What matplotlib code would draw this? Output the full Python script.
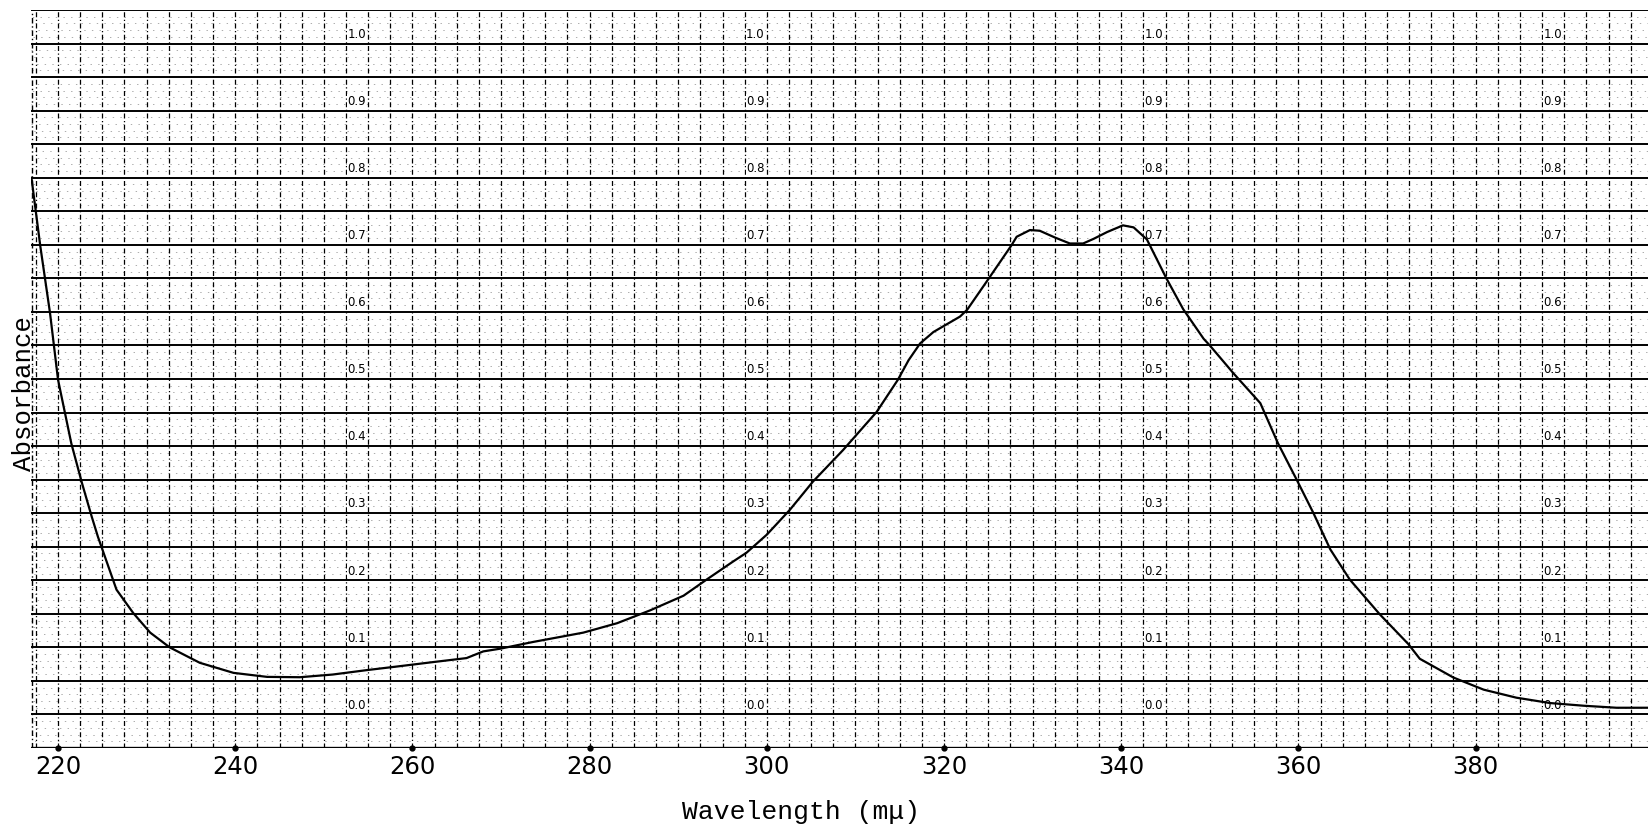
import numpy as np
import matplotlib
matplotlib.use("Agg")
import matplotlib.pyplot as plt

# ---- data ----
wavelength = [217.0, 218.0, 219.1, 220.0, 221.5, 222.7, 223.8, 224.5, 226.6, 228.5,
              230.4, 232.6, 236.0, 239.8, 243.6, 247.3, 251.0, 254.8, 258.6, 262.3,
              266.1, 268.0, 269.9, 273.6, 279.3, 283.1, 286.8, 290.6, 293.2, 296.2,
              297.7, 300.0, 302.6, 305.2, 308.6, 312.4, 314.8, 316.0, 317.3, 318.8,
              321.8, 322.6, 324.8, 327.6, 328.2, 329.7, 330.8, 332.5, 334.2, 335.7,
              336.9, 338.4, 340.2, 341.4, 342.9, 345.1, 347.0, 349.3, 350.0, 352.7,
              355.7, 357.7, 359.8, 361.7, 363.6, 365.8, 369.2, 372.4, 373.7, 377.5,
              380.9, 384.6, 388.4, 392.2, 395.9, 399.5]
absorbance = [0.800, 0.698, 0.598, 0.499, 0.404, 0.345, 0.295, 0.265, 0.186, 0.151,
              0.122, 0.100, 0.077, 0.062, 0.056, 0.0555, 0.0595, 0.066, 0.072, 0.078,
              0.084, 0.094, 0.098, 0.108, 0.122, 0.136, 0.155, 0.177, 0.201, 0.228,
              0.241, 0.268, 0.305, 0.347, 0.394, 0.451, 0.499, 0.528, 0.553, 0.570,
              0.593, 0.603, 0.645, 0.699, 0.712, 0.722, 0.721, 0.711, 0.702, 0.702,
              0.709, 0.719, 0.729, 0.726, 0.708, 0.650, 0.604, 0.560, 0.550, 0.508,
              0.464, 0.404, 0.350, 0.300, 0.246, 0.201, 0.149, 0.105, 0.083, 0.055,
              0.037, 0.025, 0.017, 0.013, 0.010, 0.010]
x_ticks = [220, 240, 260, 280, 300, 320, 340, 360, 380]
paper_labels = ["0.0", "0.1", "0.2", "0.3", "0.4", "0.5", "0.6", "0.7", "0.8", "0.9", "1.0"]
paper_label_cols = [252.5, 297.5, 342.5, 387.5]

W, H = 1649, 831
fig = plt.figure(figsize=(W / 100, H / 100), dpi=100)
fig.patch.set_facecolor("white")
ax = fig.add_axes([31 / W, (H - 748) / H, (W - 31) / W, (748 - 10) / H])

x0, x1 = 216.95, 399.57
y0, y1 = -0.05, 1.05
ax.set_xlim(x0, x1)
ax.set_ylim(y0, y1)

# chart-paper texture: faint minor horizontal dashes at 0.01
for k in range(-5, 106):
    if k % 5 == 0:
        continue
    y = k / 100
    ax.axhline(y, color="0.55", lw=0.5, ls=((k * 4) % 11, (2, 9)), zorder=1)

# vertical dashed grid every 2.5 nm
for v in np.arange(217.5, 400, 2.5):
    ax.axvline(v, color="black", lw=0.9, ls=(0, (4, 2, 1, 2)), zorder=2)
ax.axvline(x0 + 0.15, color="black", lw=1.0, ls=(0, (4, 2, 1, 2)), zorder=2)

# major horizontal lines every 0.05
for k in range(-1, 22):
    y = k * 0.05
    ax.axhline(y, color="black", lw=1.4 if k > -1 else 2.4, zorder=3)

# labels printed on the paper
for cx in paper_label_cols:
    for i, lab in enumerate(paper_labels):
        ax.text(cx + 0.15, i * 0.1 + 0.004, lab, fontsize=8.5, family="DejaVu Sans",
                ha="left", va="bottom", zorder=4,
                bbox=dict(facecolor="white", edgecolor="none", pad=0.3))

# spectrum
ax.plot(wavelength, absorbance, color="black", lw=1.6, zorder=5)

# tick dots on bottom axis
ax.plot(x_ticks, [y0] * len(x_ticks), "o", color="black", ms=3.5, clip_on=False, zorder=6)

for s in ax.spines.values():
    s.set_visible(False)
ax.set_xticks(x_ticks)
ax.set_xticklabels([str(t) for t in x_ticks], fontsize=17.5, family="DejaVu Sans")
ax.tick_params(axis="x", length=0, pad=5)
ax.set_yticks([])

fig.text(801 / W, 1 - 812 / H, "Wavelength (mμ)", fontsize=19, family="Liberation Mono",
         ha="center", va="center")
fig.text(24 / W, 1 - 394 / H, "Absorbance", fontsize=18.5, family="Liberation Mono",
         ha="center", va="center", rotation=90)

fig.savefig("out.png", dpi=100, facecolor="white")
